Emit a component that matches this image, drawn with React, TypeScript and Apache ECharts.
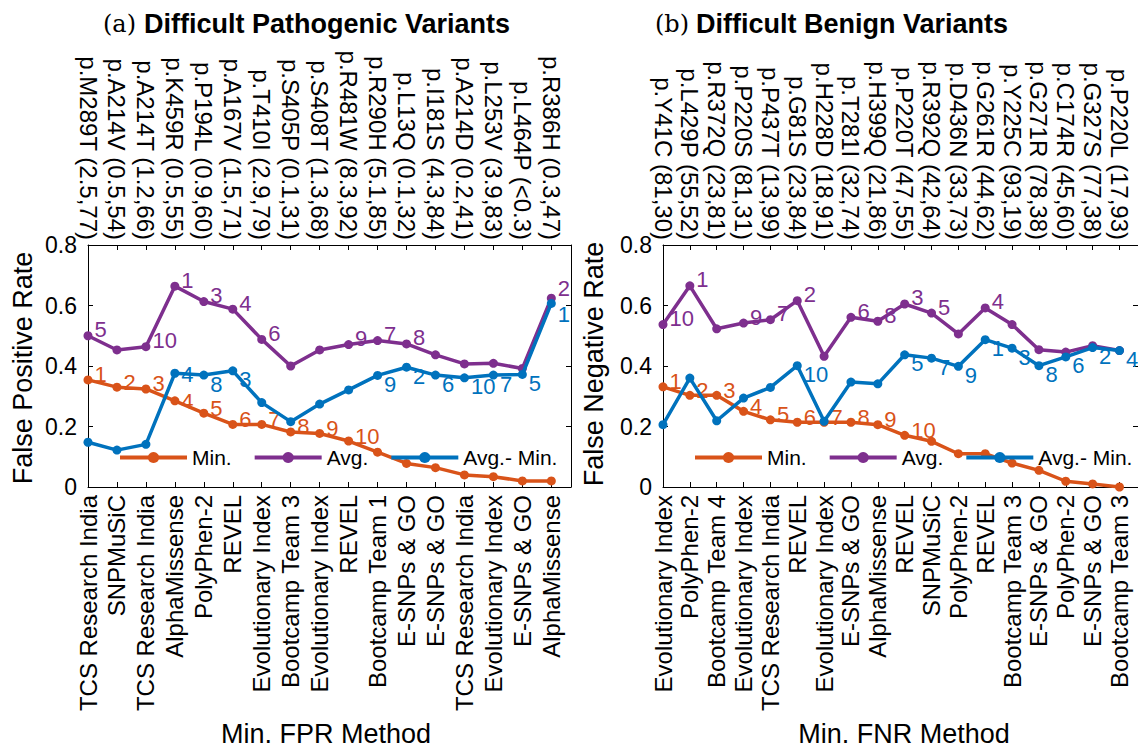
import React, { useEffect, useRef } from 'react';
import * as echarts from 'echarts';

// ---------- data ----------
const fprMethods = ['TCS Research India', 'SNPMuSiC', 'TCS Research India', 'AlphaMissense', 'PolyPhen-2', 'REVEL', 'Evolutionary Index', 'Bootcamp Team 3', 'Evolutionary Index', 'REVEL', 'Bootcamp Team 1', 'E-SNPs & GO', 'E-SNPs & GO', 'TCS Research India', 'Evolutionary Index', 'E-SNPs & GO', 'AlphaMissense'];
const pathVariants = ['p.M289T (2.5,77)', 'p.A214V (0.5,54)', 'p.A214T (1.2,66)', 'p.K459R (0.5,55)', 'p.P194L (0.9,60)', 'p.A167V (1.5,71)', 'p.T410I (2.9,79)', 'p.S405P (0.1,31)', 'p.S408T (1.3,68)', 'p.R481W (8.3,92)', 'p.R290H (5.1,85)', 'p.L13Q (0.1,32)', 'p.I181S (4.3,84)', 'p.A214D (0.2,41)', 'p.L253V (3.9,83)', 'p.L464P (<0.3)', 'p.R386H (0.3,47)'];
const fprMin = [0.354, 0.330, 0.324, 0.285, 0.244, 0.207, 0.207, 0.182, 0.177, 0.152, 0.115, 0.078, 0.064, 0.040, 0.034, 0.020, 0.020];
const fprAvg = [0.500, 0.453, 0.464, 0.664, 0.613, 0.588, 0.488, 0.400, 0.453, 0.471, 0.484, 0.473, 0.437, 0.407, 0.409, 0.392, 0.624];
const fprDiff = [0.148, 0.122, 0.141, 0.376, 0.370, 0.384, 0.279, 0.216, 0.274, 0.321, 0.369, 0.396, 0.370, 0.361, 0.370, 0.372, 0.607];
const fprMinRank = ['1', '2', '3', '4', '5', '6', '7', '8', '9', '10', '', '', '', '', '', '', ''];
const fprAvgRank = ['5', '', '10', '1', '3', '4', '6', '', '', '9', '7', '8', '', '', '', '', '2'];
const fprDiffRank = ['', '', '', '4', '8', '3', '', '', '', '', '9', '2', '6', '10', '7', '5', '1'];

const fnrMethods = ['Evolutionary Index', 'PolyPhen-2', 'Bootcamp Team 4', 'Evolutionary Index', 'TCS Research India', 'REVEL', 'Evolutionary Index', 'E-SNPs & GO', 'AlphaMissense', 'REVEL', 'SNPMuSiC', 'PolyPhen-2', 'REVEL', 'Bootcamp Team 3', 'E-SNPs & GO', 'PolyPhen-2', 'E-SNPs & GO', 'Bootcamp Team 3'];
const benignVariants = ['p.Y41C (81,30)', 'p.L429P (55,52)', 'p.R372Q (23,81)', 'p.P220S (81,31)', 'p.P437T (13,99)', 'p.G81S (23,84)', 'p.H228D (18,91)', 'p.T281I (32,74)', 'p.H399Q (21,86)', 'p.P220T (47,55)', 'p.R392Q (42,64)', 'p.D436N (33,73)', 'p.G261R (44,62)', 'p.Y225C (93,19)', 'p.G271R (78,38)', 'p.C174R (45,60)', 'p.G327S (77,38)', 'p.P220L (17,93)'];
const fnrMin = [0.331, 0.303, 0.303, 0.250, 0.222, 0.214, 0.214, 0.214, 0.206, 0.171, 0.151, 0.110, 0.110, 0.079, 0.055, 0.019, 0.010, 0.000];
const fnrAvg = [0.537, 0.665, 0.523, 0.542, 0.553, 0.616, 0.432, 0.561, 0.548, 0.605, 0.575, 0.506, 0.592, 0.537, 0.454, 0.446, 0.467, 0.451];
const fnrDiff = [0.206, 0.360, 0.219, 0.294, 0.329, 0.401, 0.217, 0.347, 0.341, 0.437, 0.426, 0.399, 0.487, 0.459, 0.401, 0.430, 0.461, 0.451];
const fnrMinRank = ['1', '2', '3', '4', '5', '6', '7', '8', '9', '10', '', '', '', '', '', '', '', ''];
const fnrAvgRank = ['10', '1', '', '9', '7', '2', '', '6', '8', '3', '5', '', '4', '', '', '', '', ''];
const fnrDiffRank = ['', '', '', '', '', '10', '', '', '', '5', '7', '9', '1', '3', '8', '6', '2', '4'];

const yTicks = [0, 0.2, 0.4, 0.6, 0.8];
const seriesNames = ['Min.', 'Avg.', 'Avg.- Min.'];
const colors = ['#D95319', '#7E2F8E', '#0072BD'];

const FONT = 'Liberation Sans, Arial, Helvetica, sans-serif';

function catFormatter(cats: string[]) {
  return (v: number) => {
    const r = Math.round(v);
    if (Math.abs(v - r) > 1e-6) return '';
    return cats[r] ?? '';
  };
}

function xAxes(gridIndex: number, max: number, bottomCats: string[], topCats: string[]) {
  const common = {
    type: 'value',
    gridIndex,
    min: 0,
    max,
    interval: 1,
    splitLine: { show: false },
    axisLine: { show: true, onZero: false, lineStyle: { color: '#000', width: 1 } },
    axisTick: { show: true, inside: true, length: 5, lineStyle: { color: '#000' } },
  };
  return [
    {
      ...common,
      position: 'bottom',
      axisLabel: { rotate: 90, margin: 8, fontSize: 24, color: '#000', fontFamily: FONT, formatter: catFormatter(bottomCats) },
    },
    {
      ...common,
      position: 'top',
      axisLabel: { rotate: 90, margin: 5, fontSize: 24, color: '#000', fontFamily: FONT, formatter: catFormatter(topCats) },
    },
  ];
}

function yAxes(gridIndex: number) {
  const common = {
    type: 'value',
    gridIndex,
    min: yTicks[0],
    max: yTicks[yTicks.length - 1],
    interval: 0.2,
    splitLine: { show: false },
    axisLine: { show: true, onZero: false, lineStyle: { color: '#000', width: 1 } },
    axisTick: { show: true, inside: true, length: 5, lineStyle: { color: '#000' } },
  };
  return [
    { ...common, position: 'left', axisLabel: { margin: 11, fontSize: 23, color: '#000', fontFamily: FONT } },
    { ...common, position: 'right', axisLabel: { show: false } },
  ];
}

function makeSeries(
  idx: number,
  axisBase: number,
  values: number[],
  ranks: string[],
  labelOffsetY: number,
  nudges: Record<number, number> = {}
) {
  return {
    type: 'line',
    name: seriesNames[idx],
    xAxisIndex: axisBase,
    yAxisIndex: axisBase,
    data: values.map((v, i) => ({
      value: [i, v],
      label: { offset: [0, labelOffsetY + (nudges[i] || 0)] },
    })),
    symbol: 'circle',
    symbolSize: 9,
    color: colors[idx],
    lineStyle: { width: 3.5, color: colors[idx] },
    itemStyle: { color: colors[idx] },
    label: {
      show: true,
      position: 'right',
      distance: 2,
      offset: [0, labelOffsetY],
      color: colors[idx],
      fontSize: 22,
      lineHeight: 16,
      fontFamily: FONT,
      formatter: (p: any) => ranks[p.dataIndex] || '',
    },
    z: 2 + idx,
  };
}

function legendFor(left: number) {
  return {
    left,
    top: 447,
    orient: 'horizontal',
    padding: 0,
    itemWidth: 67,
    itemHeight: 14,
    itemGap: 21,
    data: seriesNames,
    lineStyle: { width: 4 },
    textStyle: { fontSize: 21, color: '#000', fontFamily: FONT, lineHeight: 21 },
  };
}

function titleTexts(x: number, tag: string, text: string) {
  return [
    {
      type: 'text', x, y: 24,
      style: { text: tag, verticalAlign: 'middle', align: 'left', fontFamily: 'DejaVu Serif, serif', fontSize: 24, fill: '#000' },
    },
    {
      type: 'text', x: x + 41, y: 24,
      style: { text, verticalAlign: 'middle', align: 'left', fontFamily: FONT, fontWeight: 'bold', fontSize: 27, fill: '#000' },
    },
  ];
}

export default function App() {
  const ref = useRef<HTMLDivElement>(null);
  useEffect(() => {
    if (!ref.current) return;
    const chart = echarts.init(ref.current, undefined, { renderer: 'svg' });
    const option: any = {
      animation: false,
      backgroundColor: '#fff',
      textStyle: { fontFamily: FONT },
      grid: [
        { left: 88, top: 245, width: 483, height: 242 },
        { left: 663, top: 245, width: 482, height: 242 },
      ],
      xAxis: [
        ...xAxes(0, 16.68, fprMethods, pathVariants),
        ...xAxes(1, 17.69, fnrMethods, benignVariants),
      ],
      yAxis: [...yAxes(0), ...yAxes(1)],
      legend: [legendFor(118), legendFor(693)],
      series: [
        makeSeries(0, 0, fprMin, fprMinRank, -5, { 3: 6 }),
        makeSeries(1, 0, fprAvg, fprAvgRank, -6, { 16: -4 }),
        makeSeries(2, 0, fprDiff, fprDiffRank, 9, { 3: -8, 16: 2 }),
        makeSeries(0, 2, fnrMin, fnrMinRank, -5),
        makeSeries(1, 2, fnrAvg, fnrAvgRank, -6),
        makeSeries(2, 2, fnrDiff, fnrDiffRank, 9),
      ],
      graphic: [
        ...titleTexts(103, '(a)', 'Difficult Pathogenic Variants'),
        ...titleTexts(655, '(b)', 'Difficult Benign Variants'),
        {
          type: 'text', x: 23, y: 368, rotation: Math.PI / 2,
          style: { text: 'False Positive Rate', align: 'center', verticalAlign: 'middle', fontSize: 27, fontFamily: FONT, fill: '#000' },
        },
        {
          type: 'text', x: 594, y: 364, rotation: Math.PI / 2,
          style: { text: 'False Negative Rate', align: 'center', verticalAlign: 'middle', fontSize: 27, fontFamily: FONT, fill: '#000' },
        },
        {
          type: 'text', x: 326, y: 734,
          style: { text: 'Min. FPR Method', align: 'center', verticalAlign: 'middle', fontSize: 27, fontFamily: FONT, fill: '#000' },
        },
        {
          type: 'text', x: 904, y: 734,
          style: { text: 'Min. FNR Method', align: 'center', verticalAlign: 'middle', fontSize: 27, fontFamily: FONT, fill: '#000' },
        },
      ],
    };
    chart.setOption(option);
    return () => chart.dispose();
  }, []);
  return (
    <div
      ref={ref}
      style={{ position: 'fixed', left: 0, top: 0, width: 1138, height: 748, background: '#fff' }}
    />
  );
}
